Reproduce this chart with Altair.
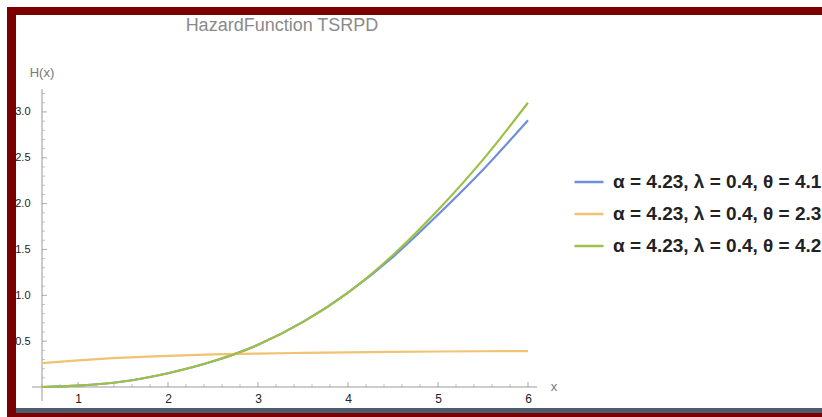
import altair as alt
import pandas as pd

# Hazard function H(x) of the TSRPD for three parameter sets
x_vals = [0.6, 1.0, 1.5, 2.0, 2.5, 3.0, 3.5, 4.0, 4.5, 5.0, 5.5, 6.0]
h_theta_41 = [0.0, 0.015, 0.06, 0.15, 0.28, 0.46, 0.71, 1.03, 1.42, 1.88, 2.37, 2.91]
h_theta_23 = [0.26, 0.29, 0.32, 0.34, 0.355, 0.365, 0.372, 0.378, 0.383, 0.387, 0.39, 0.392]
h_theta_42 = [0.0, 0.015, 0.06, 0.15, 0.28, 0.46, 0.71, 1.03, 1.44, 1.93, 2.48, 3.10]

series_labels = [
    "α = 4.23, λ = 0.4, θ = 4.1",
    "α = 4.23, λ = 0.4, θ = 2.3",
    "α = 4.23, λ = 0.4, θ = 4.2",
]
series_colors = ["#6f8fd8", "#f0c272", "#9dc146"]

x_major = [1, 2, 3, 4, 5, 6]
x_minor = [round(0.6 + 0.2 * i, 1) for i in range(28) if round(0.6 + 0.2 * i, 1) not in x_major]
y_major = [0.5, 1.0, 1.5, 2.0, 2.5, 3.0]
y_minor = [round(0.1 * i, 1) for i in range(1, 33) if round(0.1 * i, 1) not in y_major]

rows = []
for label, values in zip(series_labels, [h_theta_41, h_theta_23, h_theta_42]):
    for xv, hv in zip(x_vals, values):
        rows.append({"series": label, "x": xv, "h": hv})
df = pd.DataFrame(rows)

W, H = 495, 298
FONT = "Liberation Sans"
one = pd.DataFrame({"k": [0]})

x_scale = alt.Scale(domain=[0.6, 6.1], nice=False, zero=False)
y_scale = alt.Scale(domain=[0, 3.25], nice=False, zero=False)

lines = alt.Chart(df).mark_line(strokeWidth=2.2, interpolate="monotone").encode(
    x=alt.X("x:Q", scale=x_scale, axis=alt.Axis(
        values=x_major, format="d", domain=False, ticks=False, grid=False,
        labelPadding=6, labelFontSize=12, labelColor="#222", labelFont=FONT, title=None)),
    y=alt.Y("h:Q", scale=y_scale, axis=alt.Axis(
        values=y_major, format=".1f", domain=False, ticks=False, grid=False,
        labelPadding=12, labelFontSize=11, labelColor="#222", labelFont=FONT, title=None)),
    color=alt.Color("series:N", scale=alt.Scale(domain=series_labels, range=series_colors),
                    legend=alt.Legend(
                        title=None, orient="none", legendX=531, legendY=77,
                        symbolType="stroke", symbolSize=841, symbolStrokeWidth=2.5,
                        labelFontSize=19, labelFont=FONT, labelFontWeight="bold",
                        labelColor="#222", labelLimit=320, labelOffset=8, rowPadding=6)),
)

# Mathematica-style axes crossing inside the frame
x_axis_line = alt.Chart(one).mark_rule(color="#999", strokeWidth=1).encode(
    x=alt.value(-10), x2=alt.value(W), y=alt.datum(0))
y_axis_line = alt.Chart(one).mark_rule(color="#999", strokeWidth=1).encode(
    x=alt.datum(0.6), y=alt.value(0), y2=alt.value(H + 14))

x_ticks_major = alt.Chart(pd.DataFrame({"t": x_major})).mark_tick(
    orient="vertical", size=5, thickness=1, color="#888", yOffset=-2.5).encode(
    x=alt.X("t:Q", scale=x_scale), y=alt.datum(0))
x_ticks_minor = alt.Chart(pd.DataFrame({"t": x_minor})).mark_tick(
    orient="vertical", size=3, thickness=1, color="#aaa", yOffset=-1.5).encode(
    x=alt.X("t:Q", scale=x_scale), y=alt.datum(0))
y_ticks_major = alt.Chart(pd.DataFrame({"t": y_major})).mark_tick(
    orient="horizontal", size=5, thickness=1, color="#888", xOffset=2.5).encode(
    x=alt.datum(0.6), y=alt.Y("t:Q", scale=y_scale))
y_ticks_minor = alt.Chart(pd.DataFrame({"t": y_minor})).mark_tick(
    orient="horizontal", size=3, thickness=1, color="#aaa", xOffset=1.5).encode(
    x=alt.datum(0.6), y=alt.Y("t:Q", scale=y_scale))

title = alt.Chart(one).mark_text(
    text="HazardFunction TSRPD", fontSize=18, color="#8a8a8a", font=FONT, baseline="middle").encode(
    x=alt.value(240), y=alt.value(-63))
y_label = alt.Chart(one).mark_text(text="H(x)", fontSize=13, color="#777", font=FONT).encode(
    x=alt.datum(0.6), y=alt.value(-16))
x_label = alt.Chart(one).mark_text(text="x", fontSize=13, color="#777", font=FONT).encode(
    x=alt.value(512), y=alt.datum(0))

# Maroon frame with a slate strip along the bottom
def band(x0, x1, y0, y1, color):
    return alt.Chart(one).mark_rect(color=color).encode(
        x=alt.value(x0), x2=alt.value(x1), y=alt.value(y0), y2=alt.value(y1))

frame = [
    band(-35, 780, -82, -74, "#7b0000"),
    band(-35, -26, -82, 328, "#7b0000"),
    band(-26, 780, 319, 324, "#4d5b6e"),
    band(-35, 780, 324, 328, "#7b0000"),
]

chart = alt.layer(
    x_axis_line, y_axis_line, x_ticks_minor, x_ticks_major, y_ticks_minor, y_ticks_major,
    lines, title, y_label, x_label, *frame,
).properties(
    width=W, height=H,
    padding={"left": 42, "top": 89, "right": 285, "bottom": 30},
    autosize=alt.AutoSizeParams(type="none"),
).configure_view(stroke=None)

chart.save("out.html", embed_options={"renderer": "svg", "actions": False})
